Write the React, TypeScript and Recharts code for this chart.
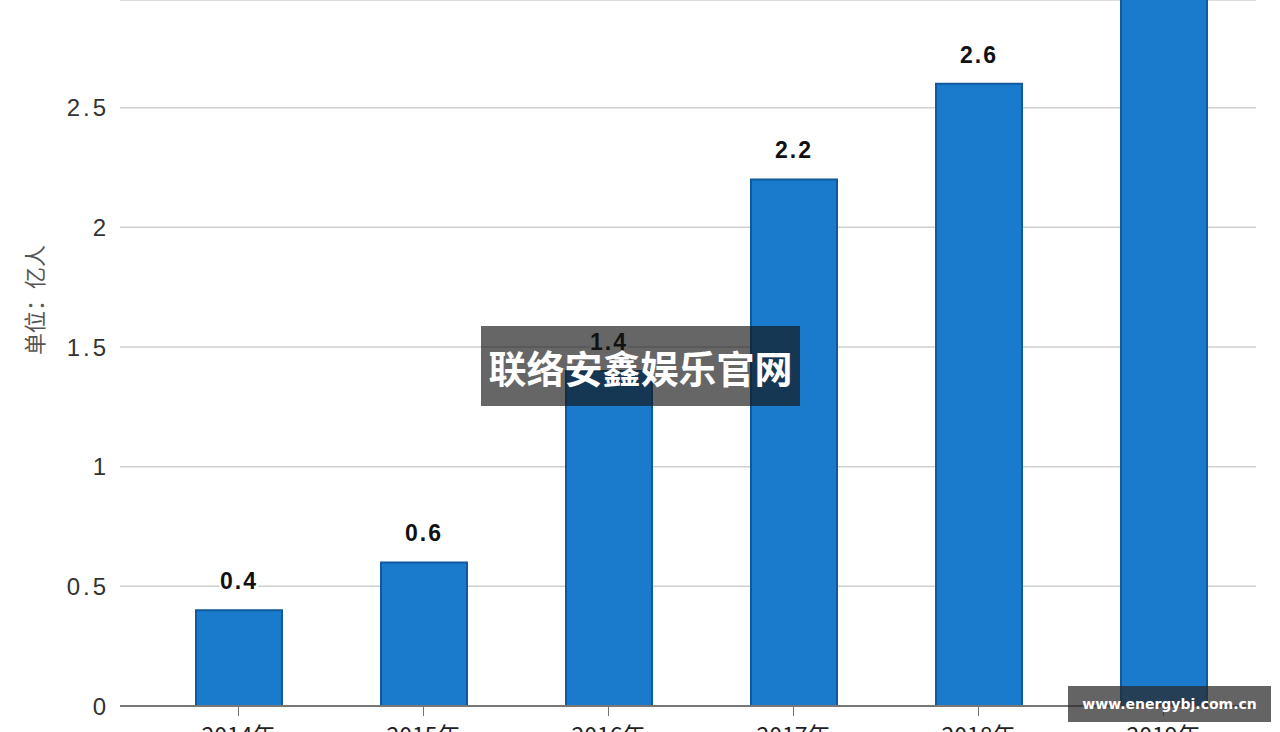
import React from "react";
import { BarChart, Bar, XAxis, YAxis, CartesianGrid, LabelList } from "recharts";

const years = ["2014年", "2015年", "2016年", "2017年", "2018年", "2019年"];
const users = [0.4, 0.6, 1.4, 2.2, 2.6, 3.2];
const yTicks = [0, 0.5, 1, 1.5, 2, 2.5];

const data = years.map((year, i) => ({ year, users: users[i] }));

const font = "'Liberation Sans', Arial, sans-serif";
const cjk = "'Noto Sans CJK SC', sans-serif";

const UnitLabel = () => (
  <text x={33} y={300} transform="rotate(-90 33 300)" textAnchor="middle" dominantBaseline="central"
    fontSize={22} fill="#555" fontFamily={cjk}>
    单位：亿人
  </text>
);

export default function App() {
  return (
    <div style={{ position: "absolute", left: 0, top: 0, width: 1280, height: 732, overflow: "hidden", background: "#fff" }}>
      <BarChart width={1280} height={732} data={data} margin={{ top: 0, right: 24, bottom: 0, left: 0 }}>
        <CartesianGrid vertical={false} stroke="#cfcfcf" strokeWidth={1.5} />
        <XAxis
          dataKey="year"
          height={26}
          padding={{ left: 26, right: 0 }}
          axisLine={{ stroke: "#777", strokeWidth: 2 }}
          tickLine={{ stroke: "#777" }}
          tickSize={10}
          tickMargin={12}
          tick={{ fontSize: 23, fill: "#222", fontFamily: cjk }}
        />
        <YAxis
          width={120}
          domain={[0, 2.95]}
          ticks={yTicks}
          allowDataOverflow
          axisLine={false}
          tickLine={false}
          tickSize={0}
          tickMargin={11}
          tick={{ fontSize: 24, fill: "#333", fontFamily: font, letterSpacing: 3 }}
          label={{ content: UnitLabel }}
        />
        <Bar dataKey="users" barSize={86} fill="#1a7acb" stroke="#0e5a9c" strokeWidth={2} isAnimationActive={false}>
          <LabelList
            dataKey="users"
            position="top"
            offset={21}
            style={{ fontSize: 23, fontWeight: "bold", fill: "#111", fontFamily: font, letterSpacing: 2, stroke: "#fff", strokeWidth: 4, paintOrder: "stroke" }}
          />
        </Bar>
      </BarChart>
      <div
        style={{
          position: "absolute", left: 481, top: 326, width: 319, height: 80,
          background: "rgba(20,20,20,0.65)", color: "#fff", display: "flex",
          alignItems: "center", justifyContent: "center",
          fontFamily: cjk, fontWeight: "bold", fontSize: 38,
        }}
      >
        联络安鑫娱乐官网
      </div>
      <div
        style={{
          position: "absolute", left: 1068, top: 686, width: 203, height: 36,
          background: "rgba(40,40,40,0.72)", color: "#fff", display: "flex",
          alignItems: "center", justifyContent: "center",
          fontFamily: "'DejaVu Sans', sans-serif", fontWeight: "bold", fontSize: 14,
        }}
      >
        www.energybj.com.cn
      </div>
    </div>
  );
}
